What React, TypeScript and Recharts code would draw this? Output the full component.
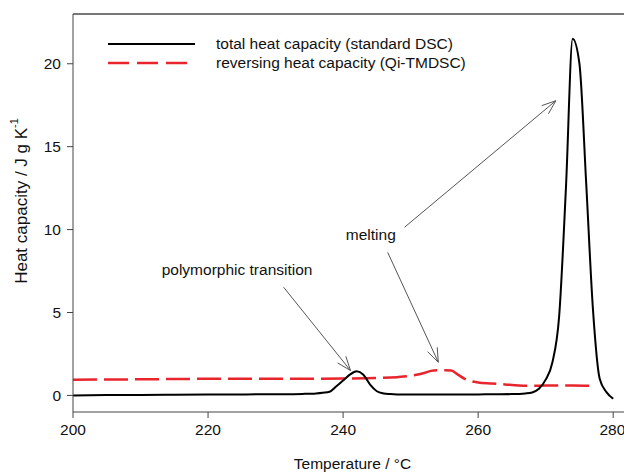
import React from "react";
import { LineChart, Line, XAxis, YAxis, ReferenceLine, ReferenceDot, Legend } from "recharts";

if (typeof document !== "undefined") document.body.style.margin = "0";

// total heat capacity (standard DSC)
const totalTemp = [200, 205, 210, 215, 220, 225, 230, 234, 236, 237, 238, 239, 240, 241, 242, 243, 244, 245, 246, 247, 248, 250, 255, 260, 265, 267, 268, 269, 270, 271, 272, 273, 274, 275, 276, 277, 278, 279, 280];
const totalCp = [0.0, 0.02, 0.03, 0.04, 0.05, 0.06, 0.07, 0.09, 0.12, 0.16, 0.22, 0.55, 0.9, 1.25, 1.45, 1.25, 0.65, 0.25, 0.12, 0.08, 0.06, 0.05, 0.05, 0.06, 0.08, 0.12, 0.18, 0.4, 0.95, 2.0, 4.8, 12.5, 21.5, 20.0, 12.8, 5.2, 1.0, 0.2, -0.2];

// reversing heat capacity (Qi-TMDSC)
const revTemp = [200, 210, 220, 230, 240, 245, 248, 250, 252, 253, 254, 255, 256, 257, 258, 259, 260, 262, 264, 266, 268, 270, 272, 274, 277];
const revCp = [0.95, 0.97, 1.0, 1.0, 1.02, 1.05, 1.1, 1.18, 1.35, 1.48, 1.52, 1.52, 1.5, 1.25, 1.0, 0.85, 0.78, 0.72, 0.66, 0.6, 0.58, 0.6, 0.6, 0.6, 0.58];

const xTicks = [200, 220, 240, 260, 280];
const yTicks = [0, 5, 10, 15, 20];

const legendLabels = ["total heat capacity (standard DSC)", "reversing heat capacity (Qi-TMDSC)"];

// annotation arrows: [fromX, fromY, toX, toY]
const arrows = [
  [231.2, 6.52, 241.1, 1.5],
  [246.6, 8.63, 254.1, 2.0],
  [249.1, 10.14, 271.5, 17.77],
];
const notes = [
  { text: "polymorphic transition", x: 224.3, y: 7.57 },
  { text: "melting", x: 244.1, y: 9.7 },
];

const totalData = totalTemp.map((t, i) => ({ t, cp: totalCp[i] }));
const revData = revTemp.map((t, i) => ({ t, cp: revCp[i] }));

const font = "'Liberation Sans', Arial, sans-serif";
const fs = 15.5;
const arrowColor = "#555";
const red = "#e8242c";

const Arrow = (props: any) => {
  const { x1, y1, x2, y2 } = props;
  const ang = Math.atan2(y2 - y1, x2 - x1);
  const len = 15;
  const spread = 0.36;
  const a1 = ang + Math.PI - spread;
  const a2 = ang + Math.PI + spread;
  return (
    <g stroke={arrowColor} strokeWidth={1} fill="none">
      <line x1={x1} y1={y1} x2={x2} y2={y2} />
      <line x1={x2} y1={y2} x2={x2 + len * Math.cos(a1)} y2={y2 + len * Math.sin(a1)} />
      <line x1={x2} y1={y2} x2={x2 + len * Math.cos(a2)} y2={y2 + len * Math.sin(a2)} />
    </g>
  );
};

const renderLegend = () => (
  <svg width={380} height={40} style={{ overflow: "visible", display: "block" }}>
    <line x1={18} y1={10} x2={105} y2={10} stroke="#000" strokeWidth={2} />
    <line x1={18} y1={29} x2={105} y2={29} stroke={red} strokeWidth={2.5} strokeDasharray="21 8" />
    {legendLabels.map((s, i) => (
      <text key={s} x={126} y={10 + i * 19} dy="0.35em" fontFamily={font} fontSize={fs} fill="#111">
        {s}
      </text>
    ))}
  </svg>
);

const YTitle = (props: any) => {
  const vb = props.viewBox || {};
  const cx = (vb.x || 0) + 21;
  const cy = (vb.y || 0) + (vb.height || 0) / 2 - 12;
  return (
    <text x={cx} y={cy} transform={`rotate(-90 ${cx} ${cy})`} textAnchor="middle" dominantBaseline="central" fontFamily={font} fontSize={17} fill="#111">
      Heat capacity / J g K
      <tspan fontSize={11} dy={-7}>-1</tspan>
    </text>
  );
};

const XTitle = (props: any) => {
  const vb = props.viewBox || {};
  const cx = (vb.x || 0) + (vb.width || 0) / 2 + 4;
  const cy = (vb.y || 0) + 51;
  return (
    <text x={cx} y={cy} textAnchor="middle" dominantBaseline="central" fontFamily={font} fontSize={fs} fill="#111">
      Temperature / °C
    </text>
  );
};

export default function App() {
  return (
    <LineChart width={624} height={475} margin={{ top: 14, right: 0, bottom: 0, left: 0 }}>
      <XAxis
        type="number"
        dataKey="t"
        domain={[200, 281.6]}
        ticks={xTicks}
        allowDataOverflow
        height={63}
        stroke="#444"
        tickSize={6}
        tickMargin={6}
        tick={{ fontFamily: font, fontSize: fs, fill: "#111" }}
        label={<XTitle />}
      />
      <YAxis
        type="number"
        dataKey="cp"
        domain={[-1, 23]}
        ticks={yTicks}
        allowDataOverflow
        width={73}
        stroke="#444"
        tickSize={6}
        tickMargin={6}
        tick={{ fontFamily: font, fontSize: fs, fill: "#111" }}
        label={<YTitle />}
      />
      <ReferenceLine y={23} stroke="#777" strokeWidth={2} />
      <Legend
        layout="horizontal"
        verticalAlign="middle"
        align="center"
        content={renderLegend}
        wrapperStyle={{ position: "absolute", left: 90, top: 34, width: 380, height: 40 }}
      />
      <Line data={revData} dataKey="cp" type="monotone" stroke={red} strokeWidth={2.5} strokeDasharray="24 7" dot={false} isAnimationActive={false} />
      <Line data={totalData} dataKey="cp" type="monotone" stroke="#000" strokeWidth={2} dot={false} isAnimationActive={false} />
      {arrows.map((a, i) => (
        <ReferenceLine key={i} segment={[{ x: a[0], y: a[1] }, { x: a[2], y: a[3] }]} shape={<Arrow />} ifOverflow="visible" />
      ))}
      {notes.map((n) => (
        <ReferenceDot
          key={n.text}
          x={n.x}
          y={n.y}
          r={0}
          stroke="none"
          fill="none"
          label={{ value: n.text, position: "center", fontFamily: font, fontSize: fs, fill: "#111" }}
        />
      ))}
    </LineChart>
  );
}
